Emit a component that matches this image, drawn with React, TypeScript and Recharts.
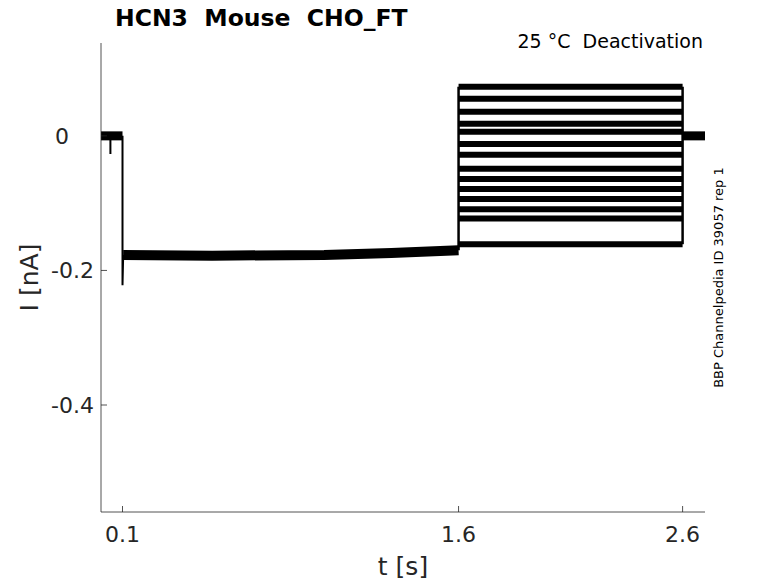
import { Line, LineChart, XAxis, YAxis } from 'recharts'

// axis ticks
const timeTicks = [0.1, 1.6, 2.6]
const currentTicks = [0, -0.2, -0.4]

// holding current before the conditioning pulse (t in s, I in nA)
const holdTimes = [0.004, 0.1]
const holdCurrents = [0, 0]

// small glitch during holding
const glitchTimes = [0.046, 0.046]
const glitchCurrents = [0, -0.027]

// capacitive spike at pulse onset
const spikeTimes = [0.1, 0.1, 0.103]
const spikeCurrents = [0, -0.222, -0.177]

// conditioning pulse
const preTimes = [0.103, 0.5, 1.0, 1.3, 1.6]
const preCurrents = [-0.177, -0.178, -0.177, -0.174, -0.17]

// deactivation test steps (one trace per step)
const stepLevels = [0.073, 0.055, 0.036, 0.018, 0.006, -0.012, -0.028, -0.049, -0.064, -0.079, -0.094, -0.109, -0.123, -0.161]
const stepStart = 1.6
const stepEnd = 2.6

// return to holding
const tailTimes = [2.6, 2.7]
const tailCurrents = [0, 0]

const zip = (ts: number[], is: number[]) => ts.map((t, k) => ({ t, i: is[k] }))

const holdData = zip(holdTimes, holdCurrents)
const glitchData = zip(glitchTimes, glitchCurrents)
const spikeData = zip(spikeTimes, spikeCurrents)
const preData = zip(preTimes, preCurrents)
const tailData = zip(tailTimes, tailCurrents)
const stepData = stepLevels.map((lvl) => zip([stepStart, stepEnd], [lvl, lvl]))
const onEdge = zip([stepStart, stepStart], [preCurrents[preCurrents.length - 1], Math.max(...stepLevels)])
const offEdge = zip([stepEnd, stepEnd], [Math.max(...stepLevels), Math.min(...stepLevels)])

const font = "'DejaVu Sans', sans-serif"
const axisColor = '#262626'
const sp2 = ' \u00A0' // double space that svg won't collapse

const XTick = (props: any) => {
	const { x, y, payload } = props
	return (
		<g>
			<line x1={x} x2={x} y1={y} y2={y - 6} stroke={axisColor} strokeWidth={0.8} />
			<text x={x} y={y + 30} textAnchor='middle' fontSize={22} fontFamily={font} fill={axisColor}>
				{payload.value}
			</text>
		</g>
	)
}

const YTick = (props: any) => {
	const { x, y, payload } = props
	// the zero label sits further left in the original
	const right = payload.value === 0 ? x - 32 : x - 7
	return (
		<g>
			<line x1={x} x2={x + 6} y1={y} y2={y} stroke={axisColor} strokeWidth={0.8} />
			<text x={right} y={y + 8} textAnchor='end' fontSize={22} fontFamily={font} fill={axisColor}>
				{payload.value}
			</text>
		</g>
	)
}

export default function App() {
	return (
		<div style={{ position: 'absolute', left: 0, top: 0, width: 778, height: 583, background: '#fff' }}>
			<LineChart width={778} height={583} margin={{ top: 43, right: 73, bottom: 0, left: 0 }}>
				<XAxis
					type='number'
					dataKey='t'
					domain={[0.004, 2.7]}
					allowDataOverflow
					ticks={timeTicks}
					height={71}
					tickSize={0}
					tickMargin={0}
					tickLine={false}
					axisLine={{ stroke: axisColor, strokeWidth: 0.8 }}
					tick={<XTick />}
				/>
				<YAxis
					type='number'
					dataKey='i'
					domain={[-0.559, 0.138]}
					allowDataOverflow
					ticks={currentTicks}
					width={101}
					tickSize={0}
					tickMargin={0}
					tickLine={false}
					axisLine={{ stroke: axisColor, strokeWidth: 0.8 }}
					tick={<YTick />}
				/>
				<Line data={holdData} dataKey='i' stroke='#000' strokeWidth={9} dot={false} isAnimationActive={false} />
				<Line data={glitchData} dataKey='i' stroke='#000' strokeWidth={2} dot={false} isAnimationActive={false} />
				<Line data={preData} dataKey='i' stroke='#000' strokeWidth={10} dot={false} isAnimationActive={false} />
				<Line data={spikeData} dataKey='i' stroke='#000' strokeWidth={2} dot={false} isAnimationActive={false} />
				{stepData.map((d, k) => (
					<Line key={k} data={d} dataKey='i' stroke='#000' strokeWidth={6} dot={false} isAnimationActive={false} />
				))}
				<Line data={onEdge} dataKey='i' stroke='#000' strokeWidth={2.5} dot={false} isAnimationActive={false} />
				<Line data={offEdge} dataKey='i' stroke='#000' strokeWidth={2.5} dot={false} isAnimationActive={false} />
				<Line data={tailData} dataKey='i' stroke='#000' strokeWidth={9} dot={false} isAnimationActive={false} />
			</LineChart>
			<svg width={778} height={583} style={{ position: 'absolute', left: 0, top: 0, pointerEvents: 'none' }}>
				<text x={115} y={26} fontSize={23.5} fontWeight='bold' fontFamily={font} fill='#000'>
					{`HCN3${sp2}Mouse${sp2}CHO_FT`}
				</text>
				<text x={703} y={48} textAnchor='end' fontSize={19} fontFamily={font} fill='#000'>
					{`25 °C${sp2}Deactivation`}
				</text>
				<text x={403} y={575} textAnchor='middle' fontSize={25} fontFamily={font} fill={axisColor}>
					t [s]
				</text>
				<text x={38} y={277.5} transform='rotate(-90 38 277.5)' textAnchor='middle' fontSize={25} fontFamily={font} fill={axisColor}>
					I [nA]
				</text>
				<text x={723} y={277.5} transform='rotate(-90 723 277.5)' textAnchor='middle' fontSize={13} fontFamily={font} fill='#000'>
					BBP Channelpedia ID 39057 rep 1
				</text>
			</svg>
		</div>
	)
}
